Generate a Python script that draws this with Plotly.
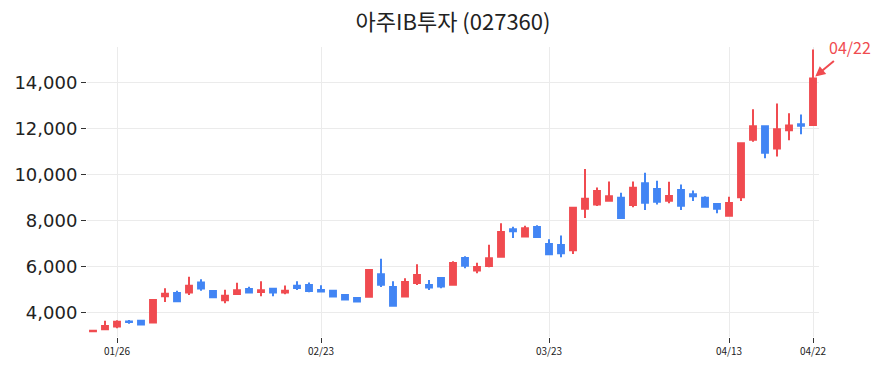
import plotly.graph_objects as go

dates = ["01/22", "01/25", "01/26", "01/27", "01/28", "01/29", "02/01", "02/02", "02/03", "02/04",
         "02/05", "02/08", "02/09", "02/10", "02/15", "02/16", "02/17", "02/18", "02/19", "02/23",
         "02/24", "02/25", "02/26", "03/02", "03/03", "03/04", "03/05", "03/08", "03/09", "03/10",
         "03/11", "03/12", "03/15", "03/16", "03/17", "03/18", "03/19", "03/22", "03/23", "03/24",
         "03/25", "03/26", "03/29", "03/30", "03/31", "04/01", "04/02", "04/05", "04/06", "04/07",
         "04/08", "04/09", "04/12", "04/13", "04/14", "04/15", "04/16", "04/19", "04/20", "04/21",
         "04/22"]

open_ = [3170, 3260, 3380, 3600, 3630, 3550, 4700, 4840, 4860, 5300,
         4930, 4520, 4790, 5010, 4880, 5020, 4860, 5150, 5190, 4970,
         4940, 4750, 4620, 4670, 5660, 5100, 4680, 5270, 5190, 5490,
         5200, 6360, 5820, 6020, 6420, 7620, 7300, 7710, 6970, 6930,
         6700, 8510, 8690, 8860, 8990, 8670, 9620, 9370, 8860, 9330,
         9140, 8990, 8720, 8210, 9010, 11520, 12110, 11140, 11930, 12190,
         12160]
high = [3220, 3630, 3650, 3660, 3650, 4540, 5050, 4940, 5550, 5440,
        4950, 4980, 5290, 5110, 5350, 5070, 5160, 5350, 5300, 5180,
        4950, 4760, 4640, 5850, 6330, 5350, 5480, 6090, 5400, 5520,
        6220, 6440, 6160, 6940, 7880, 7720, 7770, 7790, 7180, 7340,
        8560, 10240, 9440, 9700, 9210, 9700, 10080, 9730, 9690, 9570,
        9310, 9060, 8730, 9030, 11380, 12850, 12120, 13100, 12670, 12620,
        15450]
low = [3150, 3250, 3300, 3500, 3450, 3540, 4450, 4470, 4750, 4940,
       4640, 4390, 4770, 4830, 4700, 4700, 4780, 4970, 4870, 4890,
       4660, 4530, 4450, 4660, 5100, 4260, 4670, 5190, 4970, 5050,
       5190, 5920, 5700, 5960, 6410, 7240, 7290, 7270, 6510, 6400,
       6540, 8110, 8630, 8850, 8100, 8570, 8460, 8700, 8750, 8460,
       8850, 8590, 8310, 8200, 8850, 11430, 10710, 10790, 11500, 11760,
       12150]
close = [3190, 3400, 3590, 3570, 3470, 4530, 4800, 4480, 5150, 5030,
         4650, 4720, 4960, 4860, 4960, 4860, 4940, 5060, 4930, 4900,
         4680, 4550, 4470, 5840, 5200, 4280, 5320, 5620, 5080, 5120,
         6150, 6030, 5970, 6350, 7500, 7530, 7660, 7280, 6530, 6570,
         8550, 8950, 9280, 9060, 8110, 9430, 8770, 8820, 9070, 8640,
         9060, 8600, 8510, 8760, 11370, 12110, 10950, 11980, 12140, 12130,
         14190]

tick_labels = ["01/26", "02/23", "03/23", "04/13", "04/22"]
y_ticks = [4000, 6000, 8000, 10000, 12000, 14000]

RED = "#F04B50"
BLUE = "#4285F4"

fig = go.Figure(go.Candlestick(
    x=dates, open=open_, high=high, low=low, close=close,
    increasing=dict(line=dict(color=RED, width=2), fillcolor=RED),
    decreasing=dict(line=dict(color=BLUE, width=2), fillcolor=BLUE),
    showlegend=False, hoverinfo="skip",
))

fig.add_annotation(
    x=dates[-1], y=close[-1], text=dates[-1],
    showarrow=True, arrowhead=2, arrowsize=1, arrowwidth=2, arrowcolor=RED,
    ax=37, ay=-31, standoff=3,
    font=dict(family="Noto Sans CJK KR", size=16, color=RED),
)

fig.update_layout(
    width=883, height=373,
    margin=dict(l=87, r=64, t=47, b=36),
    paper_bgcolor="white", plot_bgcolor="white",
    title=dict(text="아주IB투자 (027360)", xref="paper", x=0.5, xanchor="center",
               y=0.94, yanchor="middle",
               font=dict(family="Noto Sans CJK KR", size=22, color="#222")),
    xaxis=dict(type="category", rangeslider=dict(visible=False),
               range=[-0.5, len(dates) - 0.5], autorange=False,
               tickmode="array", tickvals=tick_labels, ticktext=tick_labels,
               ticks="outside", ticklen=5, tickcolor="#333",
               showgrid=True, gridcolor="#EBEBEB", gridwidth=1, showline=False, zeroline=False,
               tickfont=dict(family="Noto Sans CJK KR", size=10, color="#222")),
    yaxis=dict(range=[2920, 15560], autorange=False, tickvals=y_ticks, tickformat=",d",
               ticks="outside", ticklen=5, tickcolor="#333",
               showgrid=True, gridcolor="#EBEBEB", gridwidth=1, showline=False, zeroline=False,
               tickfont=dict(family="DejaVu Sans", size=18, color="#222")),
)

fig.write_html("out.html")
